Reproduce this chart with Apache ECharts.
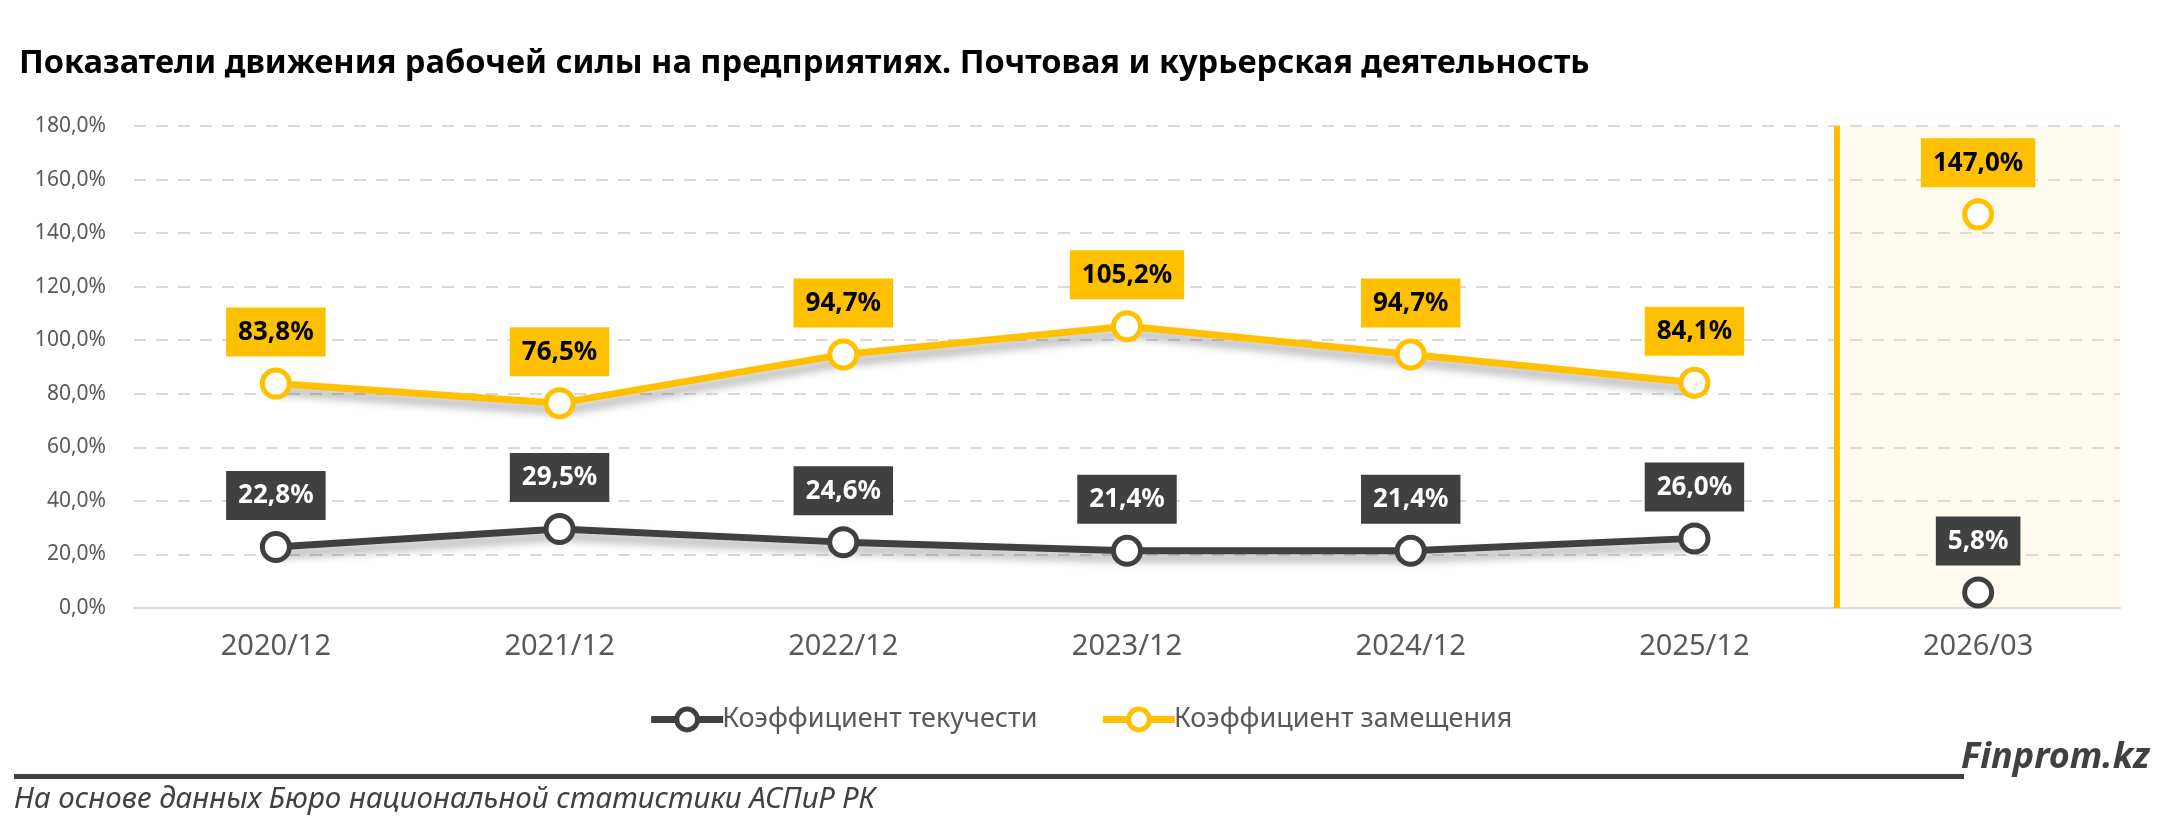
<!DOCTYPE html>
<html>
<head>
<meta charset="utf-8">
<script src="https://cdn.jsdelivr.net/npm/echarts@6/dist/echarts.min.js"></script>
<style>
  html, body { margin: 0; padding: 0; background: #fff; }
  #chart { width: 2160px; height: 840px; }
</style>
</head>
<body>
<div id="chart"></div>
<script>
const periods = ['2020/12', '2021/12', '2022/12', '2023/12', '2024/12', '2025/12', '2026/03'];
const turnover = [22.8, 29.5, 24.6, 21.4, 21.4, 26.0, 5.8];       // Коэффициент текучести
const replacement = [83.8, 76.5, 94.7, 105.2, 94.7, 84.1, 147.0]; // Коэффициент замещения
const yMin = 0, yMax = 180, yStep = 20;
const highlightIndex = 6; // 2026/03 - отдельная точка, без линии

const FONT = "'Noto Sans', 'Open Sans', sans-serif";
const pct = v => v.toFixed(1).replace('.', ',') + '%';

const chart = echarts.init(document.getElementById('chart'));

// годовые точки соединены линией, последняя (квартал) стоит отдельно
const linepart = arr => arr.map((v, i) => i < highlightIndex ? v : '-');
const pointPart = arr => arr.map((v, i) => i === highlightIndex ? v : '-');

function lineSeries(name, data, color, labelBg, labelColor) {
    return {
        name: name,
        type: 'line',
        data: data,
        z: 5,
        symbol: 'circle',
        symbolSize: 27,
        lineStyle: {
            color: color, width: 7,
            shadowColor: 'rgba(0,0,0,0.35)', shadowBlur: 10, shadowOffsetX: 3, shadowOffsetY: 7
        },
        itemStyle: { color: '#fff', borderColor: color, borderWidth: 5 },
        label: {
            show: true,
            position: 'top',
            distance: 11,
            formatter: p => pct(p.value),
            backgroundColor: labelBg,
            color: labelColor,
            fontFamily: FONT,
            fontWeight: 'bold',
            fontSize: 26,
            lineHeight: 30,
            padding: [10, 12, 9, 12]
        },
        emphasis: { disabled: true }
    };
}

const option = {
    animation: false,
    backgroundColor: '#fff',
    title: {
        text: 'Показатели движения рабочей силы на предприятиях. Почтовая и курьерская деятельность',
        left: 14, top: 42,
        textStyle: { fontFamily: FONT, fontWeight: 'bold', fontSize: 32.6, color: '#000' }
    },
    legend: {
        bottom: 102,
        left: 'center',
        itemWidth: 72,
        itemHeight: 26,
        itemGap: 62,
        data: [
            { name: 'Коэффициент текучести', lineStyle: { width: 7 }, itemStyle: { borderWidth: 5 } },
            { name: 'Коэффициент замещения', lineStyle: { width: 7 }, itemStyle: { borderWidth: 5 } }
        ],
        textStyle: { fontFamily: FONT, fontSize: 27, color: '#595959', padding: [0, 0, 0, -6] }
    },
    grid: { left: 134, right: 40, top: 126, bottom: 232, containLabel: false },
    xAxis: [
        {
            type: 'category',
            data: periods,
            axisLine: { lineStyle: { color: '#D9D9D9', width: 2 } },
            axisTick: { show: false },
            axisLabel: { fontFamily: FONT, fontSize: 29, color: '#595959', margin: 24 }
        },
        {
            type: 'value',
            min: -0.5, max: periods.length - 0.5,
            show: false
        }
    ],
    yAxis: {
        type: 'value',
        min: yMin, max: yMax, interval: yStep,
        axisLine: { show: false },
        axisTick: { show: false },
        axisLabel: {
            fontFamily: FONT, fontSize: 21, color: '#595959', margin: 28,
            formatter: v => pct(v)
        },
        splitLine: { lineStyle: { color: '#D9D9D9', width: 2, type: [12, 10] } }
    },
    series: [
        {
            type: 'line',
            xAxisIndex: 1,
            data: [],
            silent: true,
            z: 1,
            markArea: {
                silent: true,
                itemStyle: { color: 'rgba(250,230,160,0.18)' },
                data: [[{ xAxis: highlightIndex - 0.5 }, { xAxis: highlightIndex + 0.5 }]]
            },
            markLine: {
                silent: true,
                symbol: 'none',
                label: { show: false },
                lineStyle: { color: '#FFC000', width: 6, type: 'solid' },
                data: [{ xAxis: highlightIndex - 0.5 }]
            }
        },
        lineSeries('Коэффициент текучести', linepart(turnover), '#404040', '#404040', '#fff'),
        lineSeries('Коэффициент текучести', pointPart(turnover), '#404040', '#404040', '#fff'),
        lineSeries('Коэффициент замещения', linepart(replacement), '#FFC000', '#FFC000', '#000'),
        lineSeries('Коэффициент замещения', pointPart(replacement), '#FFC000', '#FFC000', '#000')
    ],
    graphic: [
        {
            type: 'rect',
            shape: { x: 14, y: 774, width: 1950, height: 5 },
            style: { fill: '#404040' }
        },
        {
            type: 'text',
            right: 10, top: 740,
            style: {
                text: 'Finprom.kz',
                font: "italic bold 36px 'Noto Sans', sans-serif",
                fill: '#404040'
            }
        },
        {
            type: 'text',
            left: 14, top: 785,
            style: {
                text: 'На основе данных Бюро национальной статистики АСПиР РК',
                font: "italic 29.5px 'Noto Sans', sans-serif",
                fill: '#404040'
            }
        }
    ]
};

chart.setOption(option);
window.addEventListener('resize', () => chart.resize());
</script>
</body>
</html>
